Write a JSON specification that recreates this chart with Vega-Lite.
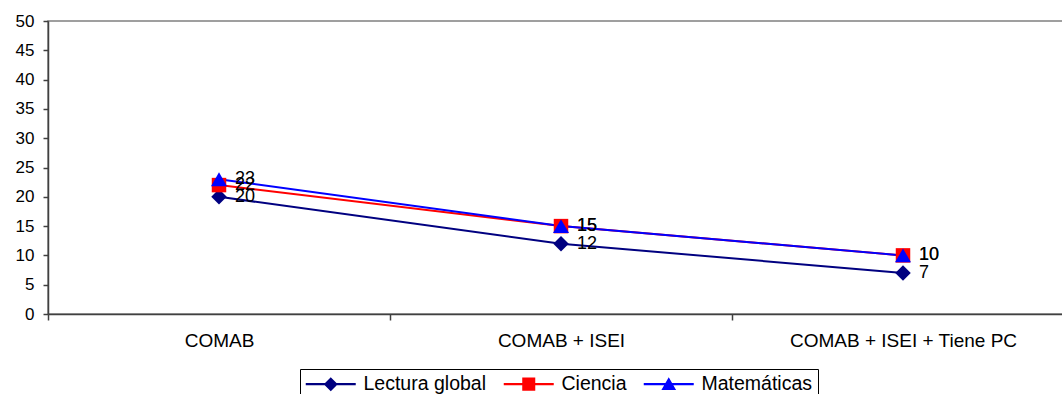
{
  "$schema": "https://vega.github.io/schema/vega-lite/v6.json",
  "autosize": {"type": "none"},
  "padding": {"left": 48, "top": 21, "right": 0, "bottom": 80},
  "width": 1026,
  "height": 293,
  "background": "white",
  "config": {
    "font": "Liberation Sans",
    "view": {"stroke": "#808080", "strokeWidth": 1.5},
    "axis": {"labelFont": "Liberation Sans", "labelColor": "black", "domainColor": "#404040", "tickColor": "#404040", "domainWidth": 1.5, "tickWidth": 1.5, "grid": false, "title": null}
  },
  "data": {
    "values": [
      {"modelo": "COMAB", "serie": "Lectura global", "valor": 20},
      {"modelo": "COMAB + ISEI", "serie": "Lectura global", "valor": 12},
      {"modelo": "COMAB + ISEI + Tiene PC", "serie": "Lectura global", "valor": 7},
      {"modelo": "COMAB", "serie": "Ciencia", "valor": 22},
      {"modelo": "COMAB + ISEI", "serie": "Ciencia", "valor": 15},
      {"modelo": "COMAB + ISEI + Tiene PC", "serie": "Ciencia", "valor": 10},
      {"modelo": "COMAB", "serie": "Matemáticas", "valor": 23},
      {"modelo": "COMAB + ISEI", "serie": "Matemáticas", "valor": 15},
      {"modelo": "COMAB + ISEI + Tiene PC", "serie": "Matemáticas", "valor": 10}
    ]
  },
  "encoding": {
    "x": {
      "field": "modelo", "type": "nominal", "sort": null,
      "scale": {"paddingInner": 0, "paddingOuter": 0},
      "axis": {"labelAngle": 0, "labelFontSize": 19, "labelLimit": 0, "tickBand": "extent", "tickSize": 6, "labelPadding": 11}
    },
    "y": {
      "field": "valor", "type": "quantitative",
      "scale": {"domain": [0, 50], "nice": false},
      "axis": {"values": [0,5,10,15,20,25,30,35,40,45,50], "labelFontSize": 17, "tickSize": 5, "labelPadding": 9}
    },
    "color": {
      "field": "serie", "type": "nominal", "sort": ["Lectura global", "Ciencia", "Matemáticas"],
      "scale": {"domain": ["Lectura global", "Ciencia", "Matemáticas"], "range": ["#000080", "#FF0000", "#0000FF"]},
      "legend": {
        "title": null, "orient": "none", "legendX": 252, "legendY": 348, "direction": "horizontal",
        "labelFontSize": 19.5, "labelColor": "black", "labelOffset": 23, "symbolOffset": 16, "columnPadding": 16,
        "symbolSize": 196, "strokeColor": "black", "padding": 5,
        "encode": {
          "symbols": {
            "update": {
              "shape": {"signal": "datum.value === 'Lectura global' ? 'M-3.571,-0.143L3.571,-0.143L3.571,0.143L-3.571,0.143Z M0,-1L1,0L0,1L-1,0Z' : datum.value === 'Ciencia' ? 'M-3.571,-0.143L3.571,-0.143L3.571,0.143L-3.571,0.143Z M-0.93,-0.93L0.93,-0.93L0.93,0.93L-0.93,0.93Z' : 'M-3.571,-0.143L3.571,-0.143L3.571,0.143L-3.571,0.143Z M0,-1L1.05,0.85L-1.05,0.85Z'"},
              "size": {"value": 196},
              "fill": {"signal": "scale('color', datum.value)"},
              "fillOpacity": {"value": 1},
              "strokeWidth": {"value": 0}
            }
          }
        }
      }
    }
  },
  "layer": [
    {"mark": {"type": "line", "strokeWidth": 2}},
    {
      "transform": [{"filter": "datum.serie === 'Lectura global'"}],
      "mark": {"type": "point", "filled": true, "opacity": 1, "shape": "diamond", "size": 240}
    },
    {
      "transform": [{"filter": "datum.serie === 'Ciencia'"}],
      "mark": {"type": "point", "filled": true, "opacity": 1, "shape": "square", "size": 210}
    },
    {
      "transform": [{"filter": "datum.serie === 'Matemáticas'"}],
      "mark": {"type": "point", "filled": true, "opacity": 1, "shape": "triangle-up", "size": 256}
    },
    {
      "mark": {"type": "text", "align": "left", "baseline": "middle", "dx": 16, "fontSize": 18, "color": "black"},
      "encoding": {"text": {"field": "valor", "type": "quantitative"}, "color": {"value": "black"}}
    }
  ]
}
